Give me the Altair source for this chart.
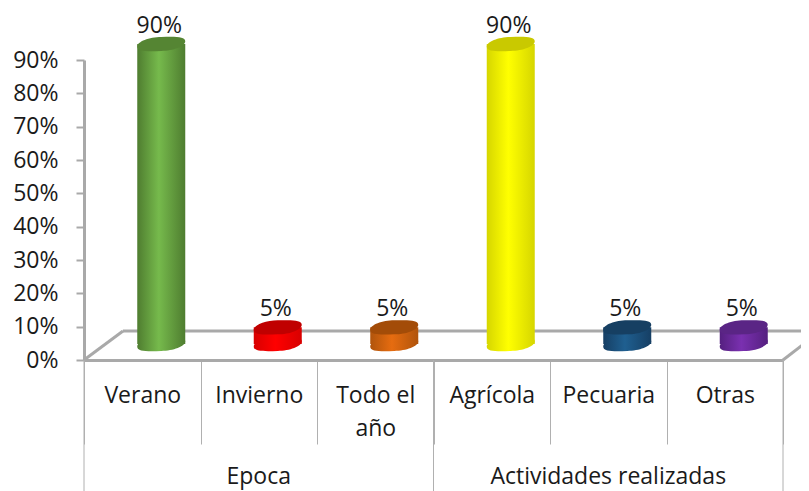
import altair as alt
import pandas as pd

categories = ["Verano", "Invierno", "Todo el|año", "Agrícola", "Pecuaria", "Otras"]
values = [0.90, 0.05, 0.05, 0.90, 0.05, 0.05]
groups = ["Epoca", "Actividades realizadas"]
group_spans = [(0, 3), (3, 6)]
y_ticks = [0.0, 0.1, 0.2, 0.3, 0.4, 0.5, 0.6, 0.7, 0.8, 0.9]
side_colors = ["#4F7D30", "#D80000", "#B0540C", "#D6D600", "#163F64", "#552080"]
mid_colors = ["#76BA4C", "#FF0000", "#E66C10", "#FFFF00", "#1F5F90", "#7A30B0"]
top_colors = ["#558533", "#C00000", "#A34C08", "#C9C900", "#163F62", "#5A2585"]

W, H = 699, 300
FONT = "Open Sans"
FS = 23
GREY = "#A9A9A9"
DARK = "#1a1a1a"
TILT = "M-1,0.11 C-1,-0.10 -0.5,-0.29 0,-0.29 C0.6,-0.31 1,-0.31 1,-0.11 C1,0.10 0.5,0.29 0,0.29 C-0.6,0.31 -1,0.31 -1,0.11 Z"
DX, DY = 19, -16
SIZE = 2304

x_axis = alt.Axis(title=None, labelAngle=0, labelFont=FONT, labelFontSize=FS, labelColor=DARK,
                  labelExpr="split(datum.label,'|')", labelLineHeight=33,
                  bandPosition=0, tickBand="extent", tickSize=84, tickColor="#B0B0B0", tickWidth=1,
                  domainColor=GREY, domainWidth=3, labelBaseline="middle",
                  labelPadding=-49, labelLimit=200)
x_scale = alt.Scale(paddingInner=0, paddingOuter=0)
y_scale = alt.Scale(domain=[0, 0.9], nice=False)
y_axis = alt.Axis(title=None, values=y_ticks, tickCount=10, format=".0%", labelFont=FONT, labelFontSize=FS,
                  labelColor=DARK, labelPadding=18, tickSize=8, tickColor=GREY, tickWidth=2,
                  labelOverlap=False, labelSeparation=0, domainColor=GREY, domainWidth=3, grid=False)
x = alt.X("cat:N", sort=categories, scale=x_scale, axis=x_axis)
y = alt.Y("val:Q", scale=y_scale, axis=y_axis)
y_base = alt.Y("base:Q", scale=y_scale, axis=y_axis)

df = pd.DataFrame({"cat": categories, "val": values, "base": [0.0] * 6, "txt": [f"{v:.0%}" for v in values]})
base = alt.Chart(df)

step = W / len(categories)
floor = pd.DataFrame({
    "x": [0, 39, 699, 725], "x2": [39, 725, 725, 725],
    "y": [300, 271, 300, 280], "y2": [271, 271, 280, 280],
})
floor_rules = alt.Chart(floor).mark_rule(color=GREY, strokeWidth=3).encode(
    x=alt.X("x:Q", scale=None), x2="x2:Q", y=alt.Y("y:Q", scale=None), y2="y2:Q")

layers = [
    base.mark_bar(opacity=0).encode(x=x, y=y),
    floor_rules,
]
for i, c in enumerate(categories):
    sub = base.transform_filter(alt.datum.cat == c)
    grad = alt.Gradient(gradient="linear", x1=0, x2=1, y1=0, y2=0, stops=[
        alt.GradientStop(offset=0, color=side_colors[i]),
        alt.GradientStop(offset=0.45, color=mid_colors[i]),
        alt.GradientStop(offset=1, color=side_colors[i]),
    ])
    layers.append(sub.mark_point(shape=TILT, size=SIZE, filled=True, fill=grad, opacity=1, xOffset=DX, yOffset=DY)
                  .encode(x=x, y=y_base))
    layers.append(sub.mark_bar(fill=grad, width=48, xOffset=DX, yOffset=DY, y2Offset=DY)
                  .encode(x=x, y=y, y2="base:Q"))
    layers.append(sub.mark_point(shape=TILT, size=SIZE, filled=True, fill=top_colors[i], opacity=1, xOffset=DX, yOffset=DY)
                  .encode(x=x, y=y))

labels = base.mark_text(font=FONT, fontSize=FS, color=DARK, dx=DX - 2, dy=-34, baseline="middle").encode(
    x=x, y=y, text="txt:N")
layers.append(labels)

edges = sorted({e for s in group_spans for e in s})
sep = pd.DataFrame({"x": [e * step for e in edges]})
layers.append(alt.Chart(sep).mark_rule(color="#B0B0B0", strokeWidth=1).encode(
    x=alt.X("x:Q", scale=None), y=alt.value(H), y2=alt.value(H + 131)))
gdf = pd.DataFrame({"g": groups, "x": [(a + b) / 2 * step for a, b in group_spans]})
layers.append(alt.Chart(gdf).mark_text(font=FONT, fontSize=FS, color=DARK, baseline="middle").encode(
    x=alt.X("x:Q", scale=None), y=alt.value(H + 117), text="g:N"))

chart = alt.layer(*layers).properties(
    width=W, height=H,
    padding={"left": 76, "top": 52, "right": 18, "bottom": 131},
    autosize=alt.AutoSizeParams(type="none"),
    background="white",
).configure_view(stroke=None)

chart.save("out.html", embed_options={"renderer": "svg", "actions": False})
